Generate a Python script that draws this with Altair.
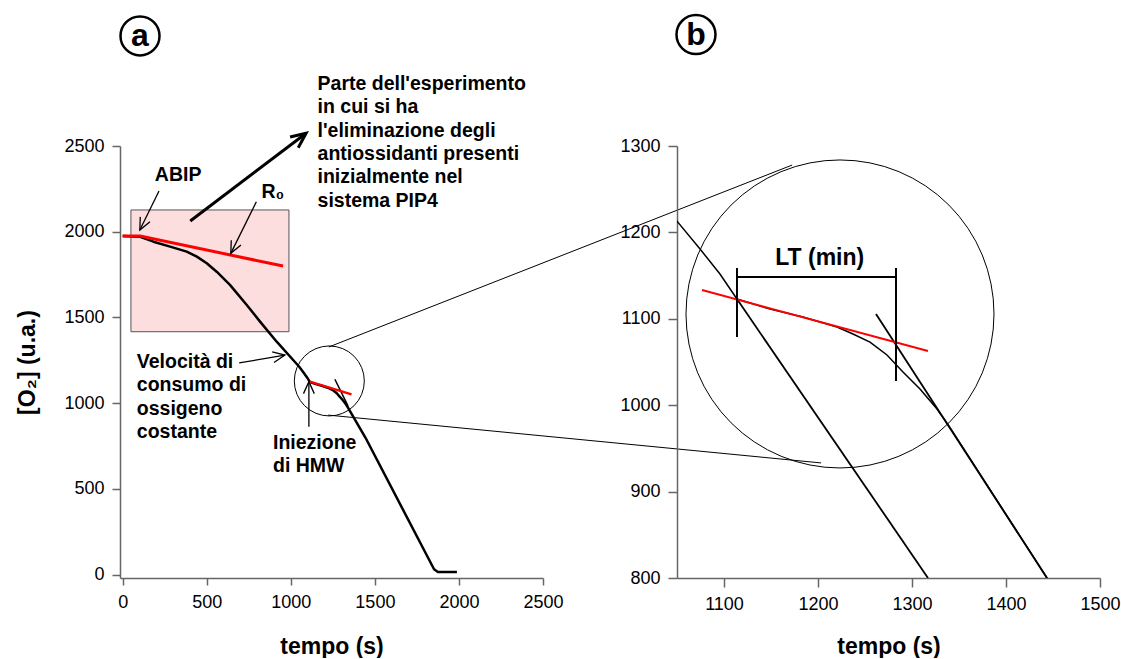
import math
import altair as alt
import pandas as pd

FONT = "Liberation Sans"

# ---------------- values ----------------
# experimental O2 trace (time s, O2 a.u.)
trace_t = [0, 104, 183, 282, 381, 441, 500, 559, 638, 738, 817, 916, 1050, 1074.5, 1095.7, 1113.8,
           1148.9, 1184, 1220.2, 1237.2, 1255.3, 1273.4, 1290.4, 1308.5, 1326.6, 1340,
           1443.6, 1852, 1875, 1988]
trace_o2 = [1975, 1971, 1942, 1913, 1884, 1855, 1816, 1767, 1690, 1573, 1476, 1359, 1213, 1180.8, 1151.9, 1122.9,
            1111.3, 1102, 1090.5, 1082.4, 1073.1, 1058.1, 1038.4, 1018.8, 995.6, 975,
            800, 32, 16, 16]

# red fitted lines
r0_t = [0, 104, 954]
r0_o2 = [1975, 1975, 1800]
ind_a_t = [1113, 1361]
ind_a_o2 = [1126, 1052]
ind_b_t = [1076.6, 1317]
ind_b_o2 = [1133.3, 1062.7]

# black tangent lines
tan1_t = [1113.8, 1317]
tan1_o2 = [1122.9, 800]
tan2_b_t = [1261.7, 1443.6]
tan2_b_o2 = [1105.6, 800]
tan2_a_t = [1262, 1340]
tan2_a_o2 = [1140, 985]

# shaded region (panel a)
box_t = [49, 989]
box_o2 = [1417, 2127]

# LT bracket (panel b)
lt_x = [1113.8, 1283]
lt_top = [1158.8, 1158.8]
lt_bot = [1078.9, 1028]
lt_bar = [1148.4]

# zoom circles
small_circle = [1229, 1130]
big_circle = [1223.4, 1105.6]

# zoom connector lines (panel a data units)
zoom_x1 = [1226, 1222]
zoom_y1 = [1328, 931]
zoom_x2 = [3982, 4154]
zoom_y2 = [2389, 652]

# annotation arrows (panel a)
arrow_x1 = [216, 795, 693, 1107.5]
arrow_y1 = [2238, 2175, 1235, 863]
arrow_x2 = [102, 643, 965, 1107.5]
arrow_y2 = [2010, 1874, 1281, 1126]
big_arrow = [402, 2063, 1091, 2574]

# annotation texts (panel a)
note_x = [84, 894, 1159, 825]
note_y = [1293, 823, 2914, 2284]
note_text = ["Velocità di\nconsumo di\nossigeno\ncostante",
             "Iniezione\ndi HMW",
             "Parte dell'esperimento\nin cui si ha\nl'eliminazione degli\nantiossidanti presenti\ninizialmente nel\nsistema PIP4",
             "R₀"]
abip = [330, 2382, "ABIP"]
panel_a_tag = [103, 3142, "a"]
panel_b_tag = [1070.2, 1429, "b"]
lt_label = [1201.8, 1183, "LT (min)"]

# ---------------- geometry of panels ----------------
W, H = 423, 432
XA_DOM, YA_DOM = [-16, 2500], [-19, 2500]
XB_DOM, YB_DOM = [1050, 1500], [800, 1300]
sxa = W / (XA_DOM[1] - XA_DOM[0])
sya = H / (YA_DOM[1] - YA_DOM[0])

ARROW = "M -1 -0.45 L 0 0 L -1 0.45"


def head_angle(x1, y1, x2, y2):
    return math.degrees(math.atan2(-(y2 - y1) * sya, (x2 - x1) * sxa)) % 360


def axis(values, title, orient, tick, **kw):
    return alt.Axis(values=values, title=title, grid=False, domainColor="#666666",
                    domainWidth=1.5, tickColor="#666666", tickWidth=1.5, tickSize=tick,
                    labelFont=FONT, labelFontSize=18, labelColor="black", labelPadding=8,
                    labelFlush=False, labelOverlap=False, format="d",
                    titleFont=FONT, titleFontSize=23, titleFontWeight="bold", titleColor="black",
                    **kw)


axa_x = axis([0, 500, 1000, 1500, 2000, 2500], "tempo (s)", "bottom", 7,
             titleY=75, titleBaseline="alphabetic")
axa_y = axis([0, 500, 1000, 1500, 2000, 2500], "[O₂]  (u.a.)", "left", 8,
             titleAngle=270, titleX=-86, titleY=216, titleAlign="center", titleBaseline="alphabetic")
axb_x = axis([1100, 1200, 1300, 1400, 1500], "tempo (s)", "bottom", 9,
             titleY=75, titleBaseline="alphabetic")
axb_y = axis([800, 900, 1000, 1100, 1200, 1300], None, "left", 9)

sc_xa = alt.Scale(domain=XA_DOM, nice=False, zero=False)
sc_ya = alt.Scale(domain=YA_DOM, nice=False, zero=False)
sc_xb = alt.Scale(domain=XB_DOM, nice=False, zero=False)
sc_yb = alt.Scale(domain=YB_DOM, nice=False, zero=False)


def xa(f):
    return alt.X(f, type="quantitative", scale=sc_xa, axis=axa_x)


def ya(f):
    return alt.Y(f, type="quantitative", scale=sc_ya, axis=axa_y)


def xb(f):
    return alt.X(f, type="quantitative", scale=sc_xb, axis=axb_x)


def yb(f):
    return alt.Y(f, type="quantitative", scale=sc_yb, axis=axb_y)


trace = pd.DataFrame({"t": trace_t, "o2": trace_o2})
r0 = pd.DataFrame({"t": r0_t, "o2": r0_o2})
ind_a = pd.DataFrame({"t": ind_a_t, "o2": ind_a_o2})
ind_b = pd.DataFrame({"t": ind_b_t, "o2": ind_b_o2})
tan1 = pd.DataFrame({"t": tan1_t, "o2": tan1_o2})
tan2_b = pd.DataFrame({"t": tan2_b_t, "o2": tan2_b_o2})
tan2_a = pd.DataFrame({"t": tan2_a_t, "o2": tan2_a_o2})
box = pd.DataFrame({"t": [box_t[0]], "t2": [box_t[1]], "o2": [box_o2[0]], "o22": [box_o2[1]]})
zoom = pd.DataFrame({"x1": zoom_x1, "y1": zoom_y1, "x2": zoom_x2, "y2": zoom_y2})
arrows = pd.DataFrame({"x1": arrow_x1, "y1": arrow_y1, "x2": arrow_x2, "y2": arrow_y2})
arrows["ang"] = [head_angle(a, b, c, d) for a, b, c, d in zip(arrow_x1, arrow_y1, arrow_x2, arrow_y2)]
barrow = pd.DataFrame({"x1": [big_arrow[0]], "y1": [big_arrow[1]], "x2": [big_arrow[2]], "y2": [big_arrow[3]]})
barrow["ang"] = [head_angle(*big_arrow)]
notes = pd.DataFrame({"x": note_x, "y": note_y, "label": note_text})
abip_df = pd.DataFrame({"x": [abip[0]], "y": [abip[1]], "label": [abip[2]]})
tag_a = pd.DataFrame({"x": [panel_a_tag[0]], "y": [panel_a_tag[1]], "label": [panel_a_tag[2]]})
tag_b = pd.DataFrame({"x": [panel_b_tag[0]], "y": [panel_b_tag[1]], "label": [panel_b_tag[2]]})
sc_a = pd.DataFrame({"x": [small_circle[0]], "y": [small_circle[1]]})
bc_b = pd.DataFrame({"x": [big_circle[0]], "y": [big_circle[1]]})
lt_v = pd.DataFrame({"x": lt_x, "y1": lt_top, "y2": lt_bot})
lt_h = pd.DataFrame({"x1": [lt_x[0]], "x2": [lt_x[1]], "y": lt_bar})
lt_t = pd.DataFrame({"x": [lt_label[0]], "y": [lt_label[1]], "label": [lt_label[2]]})

# ---------------- panel a ----------------
a_box = alt.Chart(box).mark_rect(fill="#fddede", stroke="#555555", strokeWidth=1).encode(
    x=xa("t"), x2="t2", y=ya("o2"), y2="o22")
a_zoom = alt.Chart(zoom).mark_rule(color="black", strokeWidth=1, clip=False).encode(
    x=xa("x1"), y=ya("y1"), x2="x2", y2="y2")
a_trace = alt.Chart(trace).mark_line(color="black", strokeWidth=2.5, strokeJoin="round").encode(
    x=xa("t"), y=ya("o2"))
a_tan2 = alt.Chart(tan2_a).mark_line(color="black", strokeWidth=1.5).encode(x=xa("t"), y=ya("o2"))
a_r0 = alt.Chart(r0).mark_line(color="#ff0000", strokeWidth=3).encode(x=xa("t"), y=ya("o2"))
a_ind = alt.Chart(ind_a).mark_line(color="#ff0000", strokeWidth=2.5).encode(x=xa("t"), y=ya("o2"))
a_circ = alt.Chart(sc_a).mark_point(shape="circle", filled=False, size=4900, color="black",
                                    strokeWidth=1, opacity=1).encode(x=xa("x"), y=ya("y"))
a_arrow_l = alt.Chart(arrows).mark_rule(color="black", strokeWidth=1.3, clip=False).encode(
    x=xa("x1"), y=ya("y1"), x2="x2", y2="y2")
a_arrow_h = alt.Chart(arrows).mark_point(shape=ARROW, filled=False, size=(2 * 12) ** 2, color="black",
                                         strokeWidth=1.3, opacity=1, clip=False).encode(
    x=xa("x2"), y=ya("y2"), angle=alt.Angle("ang:Q", scale=None))
a_big_l = alt.Chart(barrow).mark_rule(color="black", strokeWidth=3, clip=False).encode(
    x=xa("x1"), y=ya("y1"), x2="x2", y2="y2")
a_big_h = alt.Chart(barrow).mark_point(shape=ARROW, filled=False, size=(2 * 15) ** 2, color="black",
                                       strokeWidth=3, opacity=1, clip=False).encode(
    x=xa("x2"), y=ya("y2"), angle=alt.Angle("ang:Q", scale=None))
a_notes = alt.Chart(notes).mark_text(font=FONT, fontSize=19.5, fontWeight="bold", align="left",
                                     baseline="top", lineBreak="\n", lineHeight=23.3,
                                     color="black", clip=False).encode(
    x=xa("x"), y=ya("y"), text="label:N")
a_abip = alt.Chart(abip_df).mark_text(font=FONT, fontSize=19.5, fontWeight="bold", align="center",
                                      baseline="top", color="black", clip=False).encode(
    x=xa("x"), y=ya("y"), text="label:N")
a_tagc = alt.Chart(tag_a).mark_point(shape="circle", filled=False, size=(2 * 19.5) ** 2, color="black",
                                     strokeWidth=2.5, opacity=1, clip=False).encode(x=xa("x"), y=ya("y"))
a_tagt = alt.Chart(tag_a).mark_text(font=FONT, fontSize=32, fontWeight="bold", align="center",
                                    baseline="middle", color="black", clip=False).encode(
    x=xa("x"), y=ya("y"), text="label:N")

panel_a = alt.layer(a_box, a_zoom, a_trace, a_tan2, a_r0, a_ind, a_circ, a_arrow_l, a_arrow_h,
                    a_big_l, a_big_h, a_notes, a_abip, a_tagc, a_tagt).properties(width=W, height=H)

# ---------------- panel b ----------------
b_circ = alt.Chart(bc_b).mark_point(shape="circle", filled=False, size=(2 * 154) ** 2, color="black",
                                    strokeWidth=1, opacity=1).encode(x=xb("x"), y=yb("y"))
b_trace = alt.Chart(trace).mark_line(color="black", strokeWidth=1.5, clip=True).encode(
    x=xb("t"), y=yb("o2"))
b_tan1 = alt.Chart(tan1).mark_line(color="black", strokeWidth=1.8, clip=True).encode(
    x=xb("t"), y=yb("o2"))
b_tan2 = alt.Chart(tan2_b).mark_line(color="black", strokeWidth=1.8, clip=True).encode(
    x=xb("t"), y=yb("o2"))
b_ind = alt.Chart(ind_b).mark_line(color="#ff0000", strokeWidth=2).encode(x=xb("t"), y=yb("o2"))
b_ltv = alt.Chart(lt_v).mark_rule(color="black", strokeWidth=2).encode(x=xb("x"), y=yb("y1"), y2="y2")
b_lth = alt.Chart(lt_h).mark_rule(color="black", strokeWidth=2).encode(x=xb("x1"), x2="x2", y=yb("y"))
b_ltt = alt.Chart(lt_t).mark_text(font=FONT, fontSize=23, fontWeight="bold", align="center",
                                  baseline="top", color="black").encode(
    x=xb("x"), y=yb("y"), text="label:N")
b_tagc = alt.Chart(tag_b).mark_point(shape="circle", filled=False, size=(2 * 19.5) ** 2, color="black",
                                     strokeWidth=2.5, opacity=1, clip=False).encode(x=xb("x"), y=yb("y"))
b_tagt = alt.Chart(tag_b).mark_text(font=FONT, fontSize=32, fontWeight="bold", align="center",
                                    baseline="middle", color="black", clip=False).encode(
    x=xb("x"), y=yb("y"), text="label:N")

panel_b = alt.layer(b_circ, b_trace, b_tan1, b_tan2, b_ind, b_ltv, b_lth, b_ltt,
                    b_tagc, b_tagt).properties(width=W, height=H)

chart = alt.hconcat(panel_a, panel_b, spacing=134, bounds="flush").properties(
    padding={"left": 16, "top": 10, "right": 0, "bottom": 0},
    background="white",
).configure_view(stroke=None)

chart.save("out.html", embed_options={"renderer": "svg", "actions": False})
